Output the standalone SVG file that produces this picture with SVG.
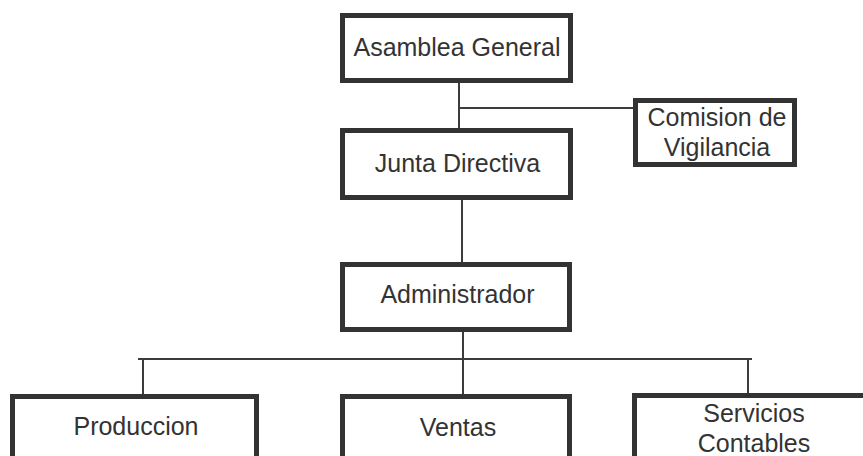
<svg xmlns="http://www.w3.org/2000/svg" width="863" height="456" viewBox="0 0 863 456">
<style>
.box{fill:#fff;stroke:#333;stroke-width:5}
.t{font-family:"Liberation Sans",Arial,sans-serif;font-size:25px;fill:#333;text-anchor:middle}
.c{stroke:#3c3c3c;stroke-width:2;fill:none}
</style>
<rect width="863" height="456" fill="#fff"/>
<g id="connectors">
<line class="c" x1="459" y1="83" x2="459" y2="128"/>
<line class="c" x1="459" y1="108" x2="633" y2="108"/>
<line class="c" x1="462" y1="200" x2="462" y2="262"/>
<line class="c" x1="463" y1="332" x2="463" y2="394"/>
<line class="c" x1="138" y1="359" x2="752" y2="359"/>
<line class="c" x1="143" y1="359" x2="143" y2="394"/>
<line class="c" x1="748" y1="359" x2="748" y2="393"/>
</g>
<g id="asamblea">
<rect class="box" x="342.5" y="15.5" width="228" height="65"/>
<text class="t" x="457" y="56">Asamblea General</text>
</g>
<g id="junta">
<rect class="box" x="342.5" y="130.5" width="228" height="67"/>
<text class="t" x="457.5" y="172">Junta Directiva</text>
</g>
<g id="comision">
<rect class="box" x="635.5" y="100.5" width="159" height="64"/>
<text class="t" x="717" y="126">Comision de</text>
<text class="t" x="717" y="156">Vigilancia</text>
</g>
<g id="administrador">
<rect class="box" x="342.5" y="264.5" width="227" height="65"/>
<text class="t" x="457.5" y="303">Administrador</text>
</g>
<g id="produccion">
<rect class="box" x="12.5" y="396.5" width="244" height="80"/>
<text class="t" x="136" y="435">Produccion</text>
</g>
<g id="ventas">
<rect class="box" x="342.5" y="396.5" width="227" height="80"/>
<text class="t" x="458" y="436">Ventas</text>
</g>
<g id="servicios">
<rect class="box" x="634.5" y="395.5" width="244" height="80"/>
<text class="t" x="754" y="422">Servicios</text>
<text class="t" x="754" y="452">Contables</text>
</g>
</svg>
